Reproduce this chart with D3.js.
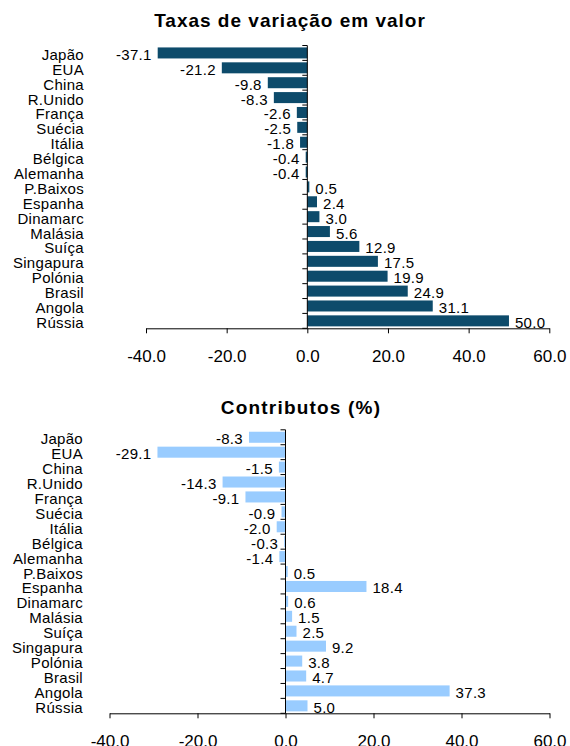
<!DOCTYPE html>
<html>
<head>
<meta charset="utf-8">
<script src="https://cdn.jsdelivr.net/npm/d3@7"></script>
<style>
  html, body { margin: 0; padding: 0; background: #fff; }
  svg { display: block; font-family: "Liberation Sans", Arial, sans-serif; }
</style>
</head>
<body>
<svg id="chart" width="570" height="746"></svg>
<script>
const categories = ["Japão","EUA","China","R.Unido","França","Suécia","Itália","Bélgica","Alemanha","P.Baixos","Espanha","Dinamarc","Malásia","Suíça","Singapura","Polónia","Brasil","Angola","Rússia"];
const taxasValues = [-37.1,-21.2,-9.8,-8.3,-2.6,-2.5,-1.8,-0.4,-0.4,0.5,2.4,3.0,5.6,12.9,17.5,19.9,24.9,31.1,50.0];
const contribValues = [-8.3,-29.1,-1.5,-14.3,-9.1,-0.9,-2.0,-0.3,-1.4,0.5,18.4,0.6,1.5,2.5,9.2,3.8,4.7,37.3,5.0];
const xTicks = [-40,-20,0,20,40,60];
const titles = ["Taxas de variação em valor","Contributos (%)"];

const svg = d3.select("#chart");

function drawPanel(cfg) {
  const g = svg.append("g");
  const x = d3.scaleLinear().domain([-40, 60]).range([cfg.x0, cfg.x1]);
  const y = d3.scaleBand().domain(categories).range([cfg.yTop, cfg.yBot]).paddingInner(0.26).paddingOuter(0.13);
  const step = y.step();

  // title
  g.append("text")
    .attr("x", cfg.titleX).attr("y", cfg.titleY)
    .attr("text-anchor", "middle")
    .attr("font-size", 19).attr("font-weight", "bold")
    .attr("letter-spacing", cfg.titleLS)
    .text(cfg.title);

  // bars
  g.selectAll("rect.bar").data(cfg.values).join("rect")
    .attr("class", "bar")
    .attr("x", d => x(Math.min(0, d)))
    .attr("width", d => Math.abs(x(d) - x(0)))
    .attr("y", (d, i) => y(categories[i]))
    .attr("height", y.bandwidth())
    .attr("fill", cfg.color);

  // x axis
  const xAxis = d3.axisBottom(x).tickValues(xTicks).tickSize(5).tickSizeOuter(0)
    .tickFormat(d => d.toFixed(1));
  const ax = g.append("g").attr("transform", `translate(0,${cfg.yBot})`).call(xAxis);
  ax.select(".domain").attr("stroke", "#000");
  ax.selectAll(".tick line").attr("stroke", "#000");
  ax.selectAll(".tick text").attr("font-size", 17).attr("fill", "#000")
    .attr("font-family", "Liberation Sans, Arial, sans-serif")
    .attr("y", 33.4).attr("dy", 0);

  // y axis line and boundary ticks
  const x0 = x(0);
  g.append("line").attr("x1", x0).attr("x2", x0).attr("y1", cfg.yTop).attr("y2", cfg.yBot).attr("stroke", "#000");
  const bounds = d3.range(categories.length + 1).map(i => cfg.yTop + i * step);
  g.selectAll("line.ytick").data(bounds).join("line")
    .attr("class", "ytick")
    .attr("x1", x0 - 5).attr("x2", x0)
    .attr("y1", d => d).attr("y2", d => d)
    .attr("stroke", "#000");

  // category labels
  g.selectAll("text.cat").data(categories).join("text")
    .attr("class", "cat")
    .attr("x", cfg.labelX)
    .attr("y", d => y(d) + y.bandwidth() / 2 + 7)
    .attr("text-anchor", "end")
    .attr("font-size", 15)
    .attr("letter-spacing", 0.3)
    .text(d => d);

  // value labels
  g.selectAll("text.val").data(cfg.values).join("text")
    .attr("class", "val")
    .attr("x", d => d < 0 ? x(d) - 6 : x(d) + 6)
    .attr("y", (d, i) => y(categories[i]) + y.bandwidth() / 2 + 7)
    .attr("text-anchor", d => d < 0 ? "end" : "start")
    .attr("font-size", 15)
    .attr("letter-spacing", 0.3)
    .text(d => d.toFixed(1));
}

drawPanel({
  title: titles[0], titleX: 290, titleY: 26.7, titleLS: 1,
  values: taxasValues, color: "#0d4b6b",
  x0: 146, x1: 549.3, yTop: 45.5, yBot: 328.3, labelX: 84
});
drawPanel({
  title: titles[1], titleX: 301, titleY: 414, titleLS: 1.2,
  values: contribValues, color: "#99ccff",
  x0: 109.5, x1: 549.5, yTop: 429.8, yBot: 713.3, labelX: 83
});
</script>
</body>
</html>
